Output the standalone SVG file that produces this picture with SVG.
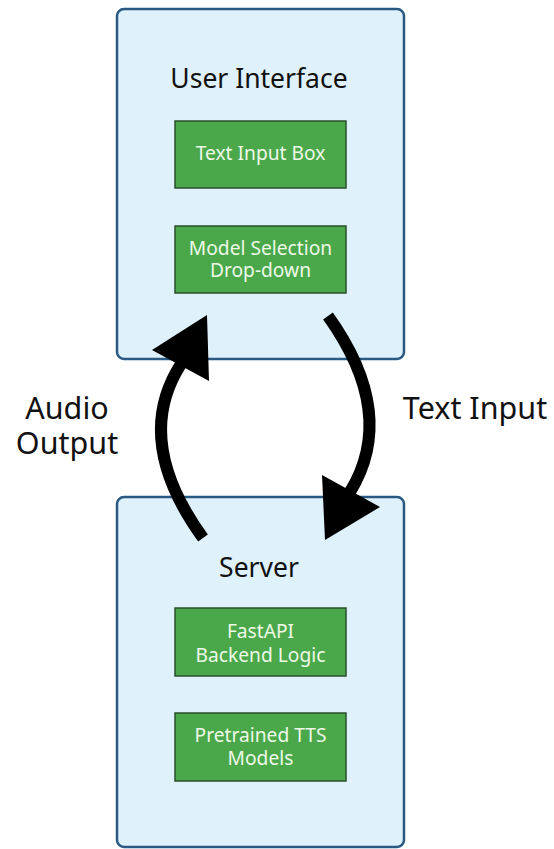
<svg xmlns="http://www.w3.org/2000/svg" width="554" height="849" viewBox="0 0 554 849">
<style>
.panel{fill:#dff1fb;stroke:#2a5a82;stroke-width:2.5}
.comp{fill:#4aa84a;stroke:#2b4f2b;stroke-width:1.5}
.title{font-family:"Noto Sans","Open Sans",sans-serif;font-size:26.5px;fill:#111;text-anchor:middle}
.ctext{font-family:"Noto Sans","Open Sans",sans-serif;font-size:19.2px;fill:#eef8e8;text-anchor:middle}
.label{font-family:"Noto Sans","Open Sans",sans-serif;font-size:30.5px;fill:#111;text-anchor:middle}
.arrow{fill:none;stroke:#000;stroke-width:12}
.head{fill:#000}
</style>
<rect width="554" height="849" fill="#fff"/>
<g id="ui">
<rect class="panel" x="117" y="9" width="287" height="350" rx="7"/>
<text class="title" x="259" y="88">User Interface</text>
</g>
<g id="text-input-box">
<rect class="comp" x="175" y="121" width="171" height="67"/>
<text class="ctext" x="260.5" y="160">Text Input Box</text>
</g>
<g id="model-selection">
<rect class="comp" x="175" y="226" width="171" height="67"/>
<text class="ctext" x="260.5" y="255">Model Selection</text>
<text class="ctext" x="260.5" y="277">Drop-down</text>
</g>
<g id="server">
<rect class="panel" x="117" y="497" width="287" height="350" rx="7"/>
<text class="title" x="259" y="577">Server</text>
</g>
<g id="fastapi">
<rect class="comp" x="175" y="608" width="171" height="68"/>
<text class="ctext" x="260.5" y="638">FastAPI</text>
<text class="ctext" x="260.5" y="662">Backend Logic</text>
</g>
<g id="tts-models">
<rect class="comp" x="175" y="713" width="171" height="68"/>
<text class="ctext" x="260.5" y="742">Pretrained TTS</text>
<text class="ctext" x="260.5" y="765">Models</text>
</g>
<g id="connectors">
<path class="arrow" d="M203,538 Q132,440 181,364"/>
<polygon class="head" points="207,315 152,350 209,381"/>
<path class="arrow" d="M328,316 Q398,414 350,492"/>
<polygon class="head" points="325,540 322,475 380,507"/>
<text class="label" x="67" y="419">Audio</text>
<text class="label" x="67" y="454">Output</text>
<text class="label" x="475" y="419">Text Input</text>
</g>
</svg>
